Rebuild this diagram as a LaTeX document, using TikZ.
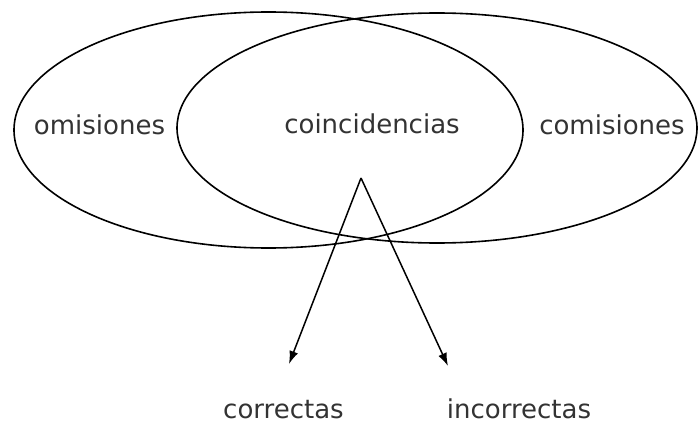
\documentclass[tikz,border=0pt]{standalone}
\usepackage{fontspec}
\setmainfont{DejaVu Sans}
\usepackage{xcolor}
\usepackage{tikz}
\usetikzlibrary{arrows.meta,positioning,shapes.geometric}
\definecolor{texto}{HTML}{333333}

\begin{document}
\begin{tikzpicture}[
  x=1pt, y=-1pt,
  conjunto/.style={draw, ellipse, inner sep=0pt, line width=1.6pt},
  etiqueta/.style={anchor=base, text=texto, font=\fontsize{26}{30}\selectfont},
  arrow/.style={-{Latex[length=13pt,width=9pt]}, line width=1.5pt},
]
\useasboundingbox (0,0) rectangle (699,425);

% Sets
\node[conjunto, minimum width=509pt, minimum height=236pt] (izq) at (268.5,130) {};
\node[conjunto, minimum width=520pt, minimum height=230pt] (der) at (437,128) {};

% Labels
\node[etiqueta] (omis) at (99.5,135) {omisiones};
\node[etiqueta] (coin) at (372,134) {coincidencias};
\node[etiqueta] (comis) at (612,135) {comisiones};
\node[etiqueta] (corr) at (283.5,418) {correctas};
\node[etiqueta] (incorr) at (519,418) {incorrectas};

% Arrows
\coordinate (origen) at (361,178);
\coordinate (puntaC) at (289,364);
\coordinate (puntaI) at (448,366);
\draw[arrow] (origen) -- (puntaC);
\draw[arrow] (origen) -- (puntaI);

\end{tikzpicture}
\end{document}
